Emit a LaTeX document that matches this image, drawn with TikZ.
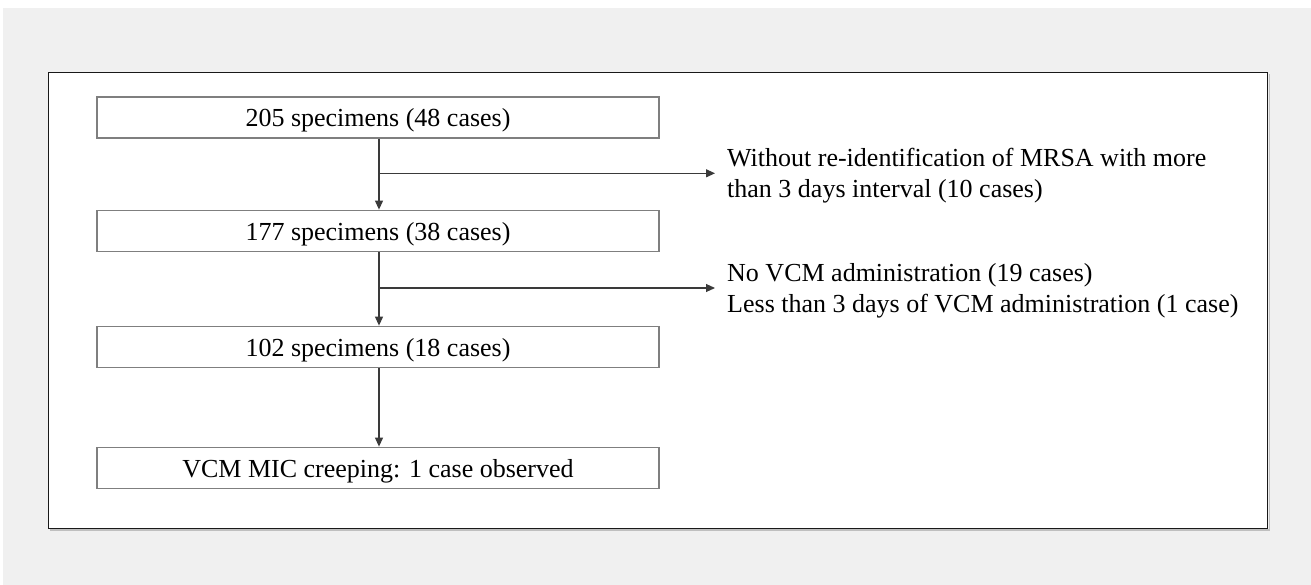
\documentclass[tikz,border=0pt]{standalone}
\usepackage{fontspec}
\setmainfont{Liberation Serif}
\usetikzlibrary{arrows.meta}
\definecolor{bggray}{HTML}{F0F0F0}
\definecolor{boxgray}{HTML}{7F7F7F}
\definecolor{linegray}{HTML}{3A3A3A}
\tikzset{
  flowbox/.style={draw=boxgray, line width=1.8pt, fill=white, minimum width=562pt, minimum height=41pt, inner sep=0pt, text height=23pt, text depth=4pt, font=\fontsize{26}{31}\selectfont},
  sidetext/.style={anchor=west, align=left, inner sep=0pt, font=\fontsize{26}{31}\selectfont},
  flowarrow/.style={draw=linegray, line width=1.1pt, -{Triangle[length=9pt,width=8pt]}}
}
\begin{document}
\begin{tikzpicture}[x=1pt,y=-1pt]
\useasboundingbox (0,0) rectangle (1311,585);
\fill[white] (0,0) rectangle (1311,585);
\fill[bggray] (3,8) rectangle (1311,585);
% frame with slight shadow
\draw[color=black!25, line width=1.5pt] (50,530) -- (1269.5,530) -- (1269.5,74);
\draw[fill=white, draw=black!90, line width=1.5pt] (48.3,72.3) rectangle (1267.7,528.3);
% boxes
\node[flowbox] (b1) at (378,117.2) {205 specimens (48 cases)};
\node[flowbox] (b2) at (378,231) {177 specimens (38 cases)};
\node[flowbox] (b3) at (378,347) {102 specimens (18 cases)};
\node[flowbox] (b4) at (378,468) {VCM MIC creeping: 1 case observed};
% branch points
\coordinate (j1) at (379,173.3);
\coordinate (e1) at (715,173.3);
\coordinate (j2) at (379,288);
\coordinate (e2) at (715,288);
\node[sidetext] (t1) at (727,175.8) {Without re-identification of MRSA with more\\than 3 days interval (10 cases)};
\node[sidetext] (t2) at (727,290.5) {No VCM administration (19 cases)\\Less than 3 days of VCM administration (1 case)};
% connectors
\draw[flowarrow] (b1.south -| j1) -- (b2.north -| j1);
\draw[flowarrow] (b2.south -| j2) -- (b3.north -| j2);
\draw[flowarrow] (b3.south -| j2) -- (b4.north -| j2);
\draw[flowarrow] (j1) -- (e1);
\draw[flowarrow] (j2) -- (e2);
\end{tikzpicture}
\end{document}
